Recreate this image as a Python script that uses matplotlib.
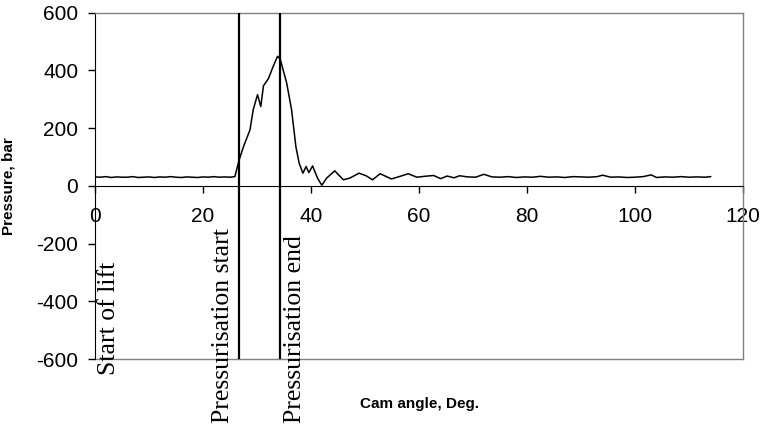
import matplotlib
matplotlib.use("Agg")
import matplotlib.pyplot as plt
import matplotlib.transforms as mtransforms

# cam angle (deg) and line pressure (bar)
angle = [0, 1, 2, 3, 4, 5, 6, 7, 8, 9, 10, 11, 12, 13, 14, 15, 16, 17, 18, 19,
         20, 21, 22, 23, 24, 25, 25.9, 26.7, 27.5, 28.7, 29.3, 30.1, 30.7, 31.2,
         32.1, 33.0, 33.8, 34.3, 35.5, 36.4, 37.2, 37.8, 38.5, 39.1, 39.6, 40.3,
         41.2, 42.0, 42.9, 44.4, 46.0, 47.2, 48.9, 50.2, 51.4, 52.8, 54.9, 56.5,
         58.0, 59.6, 61.0, 62.7, 64.0, 65.2, 66.5, 67.5, 69.0, 70.5, 72.0, 73.5,
         75.0, 76.5, 78.0, 79.5, 81.0, 82.5, 84.0, 85.5, 87.0, 88.5, 90.0, 91.5,
         93.0, 94.0, 95.5, 97.0, 98.5, 100.0, 101.5, 103.0, 104.0, 105.5, 107.0,
         108.5, 110.0, 111.5, 113.0, 114.0]
pressure = [31, 30, 32, 29, 31, 30, 30, 32, 29, 30, 31, 29, 31, 30, 32, 30, 29, 31, 30, 29,
            31, 30, 32, 30, 31, 30, 32, 90, 136, 194, 264, 316, 275, 347,
            371, 414, 449, 439, 356, 264, 136, 79, 44, 67, 46, 69,
            27, 2, 27, 52, 21, 27, 44, 35, 21, 42, 24, 33,
            42, 30, 33, 36, 25, 34, 28, 35, 31, 30, 40, 31,
            30, 32, 29, 31, 30, 33, 30, 31, 29, 32, 31, 30,
            32, 37, 30, 31, 29, 30, 32, 38, 29, 31, 30,
            32, 30, 31, 30, 32]

marker_angle = [26.7, 34.3]
annotations = ["Start of lift", "Pressurisation start", "Pressurisation end"]
annot_x = [2.6, 23.7, 37.0]
annot_bottom = [0.124, 0.012, 0.012]

x_ticks = [0, 20, 40, 60, 80, 100, 120]
y_ticks = [-600, -400, -200, 0, 200, 400, 600]

plt.rcParams['font.family'] = ['Liberation Sans', 'DejaVu Sans']
plt.rcParams['axes.unicode_minus'] = False

fig = plt.figure(figsize=(7.63, 4.28), dpi=100)
ax = fig.add_axes([0.1245, 0.1612, 0.8493, 0.8091])

ax.plot(angle, pressure, color='black', lw=1.1, zorder=3)
for xv in marker_angle:
    ax.axvline(xv, color='black', lw=1.6, zorder=4)

ax.set_xlim(0, 120)
ax.set_ylim(-600, 600)
ax.set_xticks(x_ticks)
ax.set_yticks(y_ticks)

# excel-like frame: black axis lines, grey plot border
ax.spines['bottom'].set_position(('data', 0))
ax.spines['bottom'].set_color('black')
ax.spines['left'].set_color('black')
for side in ['top', 'right']:
    ax.spines[side].set_color('#808080')
    ax.spines[side].set_linewidth(1.0)
ax.axhline(-600, color='#808080', lw=1.0, clip_on=False, zorder=1)

ax.tick_params(axis='both', direction='out', length=5, width=1, labelsize=15)
ax.tick_params(axis='x', pad=10)
ax.tick_params(axis='y', pad=7)

ax.set_xlabel('Cam angle, Deg.', fontsize=11, fontweight='bold')
ax.xaxis.set_label_coords(0.5, -0.11)
ax.set_ylabel('Pressure, bar', fontsize=11, fontweight='bold')
ax.yaxis.set_label_coords(-0.123, 0.5)

trans = mtransforms.blended_transform_factory(ax.transData, fig.transFigure)
for text, xv, yb in zip(annotations, annot_x, annot_bottom):
    ax.text(xv, yb, text, transform=trans, rotation=90, ha='center', va='bottom',
            fontsize=18.5, family=['Liberation Serif', 'DejaVu Serif'], clip_on=False, zorder=5)

fig.savefig('out.png', dpi=100)
